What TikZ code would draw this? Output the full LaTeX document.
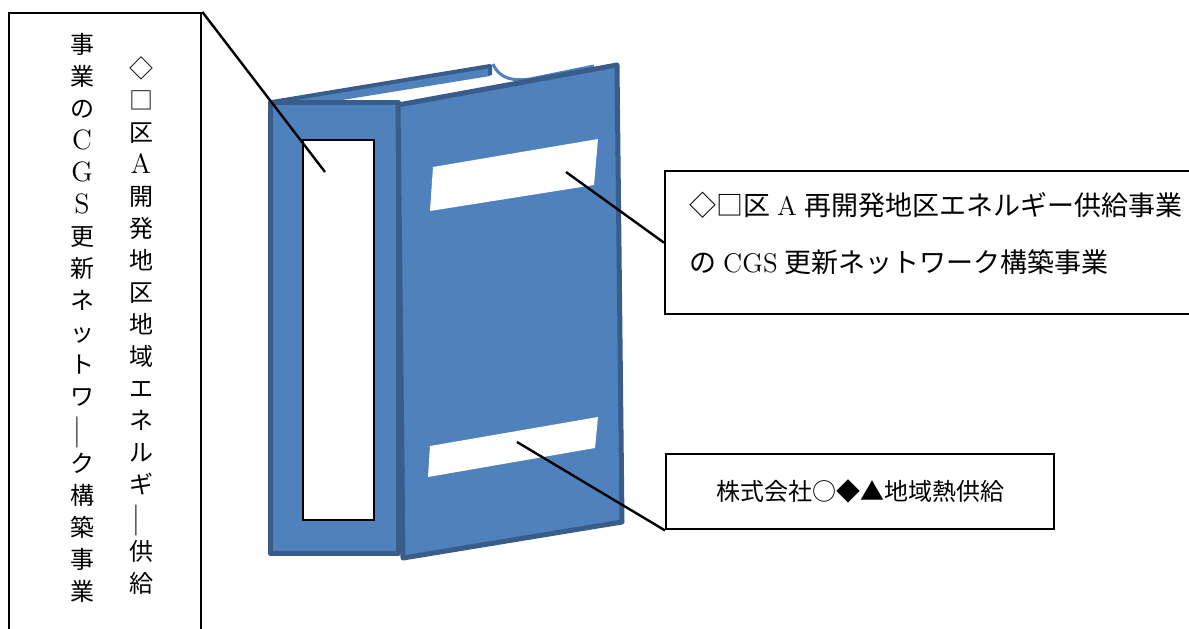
\documentclass[tikz,border=0pt]{standalone}
\usepackage{fontspec}
\newfontfamily\jp{Noto Sans CJK JP}
\usepackage{tikz}
\usetikzlibrary{positioning}
\definecolor{bookblue}{HTML}{4F81BD}
\definecolor{bookedge}{HTML}{385D8A}
\newcommand{\vbar}{\rotatebox[origin=c]{90}{\scalebox{1.5}[1]{―}}}
\newcommand{\vlat}[1]{{\rmfamily\fontsize{14}{16}\selectfont #1}}
\newcommand{\gap}{\hspace{3.5pt}}
\tikzset{
lbl_box/.style = {draw=black, line width=1.2pt, fill=white, inner sep=0pt},% cadre d'etiquette
col_txt/.style = {align=center, inner sep=0pt, font=\jp\fontsize{12}{16}\selectfont},% texte vertical
bk_part/.style = {fill=bookblue, draw=bookedge, line width=2.5pt, line join=round},% couverture
bk_tag/.style = {fill=white, draw=none},% etiquette blanche
lead/.style = {draw=black, line width=1.2pt}% trait de rappel
}
\begin{document}
\begin{tikzpicture}[x=0.5pt, y=-0.5pt]
	\useasboundingbox (0,0) rectangle (1189,628);
	\clip (0,0) rectangle (1189,628);
	% dos du livre et plat arriere
	\fill[bookblue] (272,102) -- (490,66) -- (490,76) -- (330,102) -- cycle;
	\draw[bookedge, line width=2pt, line join=round] (272,102) -- (490,66) -- (490,75);
	\draw[bookblue, line width=1.5pt] (493,64) .. controls (500,80) and (515,81) .. (530,79) -- (594,66);
	\draw[bk_part] (270,102) rectangle (398,553);
	\draw[black, line width=0.6pt, fill=white] (303,140) rectangle (374,520);
	\coordinate (spine_tag) at (325,172);
	% plat avant
	\draw[bk_part] (398,105) -- (617,65) -- (622,522) -- (403,558) -- cycle;
	\fill[bk_tag] (433,167) -- (598,139) -- (594,185) -- (430,211) -- cycle;
	\fill[bk_tag] (430,446) -- (598,417) -- (595,448) -- (428,477) -- cycle;
	\coordinate (cover_tag_a) at (566,172);
	\coordinate (cover_tag_b) at (517,442);
	% etiquettes
	\node[lbl_box, anchor=north west, minimum width=96pt, minimum height=340pt] (spine_box) at (8,12) {};
	\node[col_txt, anchor=north] (col_r) at (141,56) {◇\\□\\区\\\vlat{A}\\開\\発\\地\\区\\地\\域\\エ\\ネ\\ル\\ギ\\\vbar\\供\\給};
	\node[col_txt, anchor=north] (col_l) at (82,33) {事\\業\\の\\\vlat{C}\\\vlat{G}\\\vlat{S}\\更\\新\\ネ\\ッ\\ト\\ワ\\\vbar\\ク\\構\\築\\事\\業};
	\node[lbl_box, anchor=north west, minimum width=324pt, minimum height=71.5pt,
		align=left, text width=300pt, inner xsep=11pt, text depth=39pt,
		font=\fontsize{13.5}{28.5}\selectfont] (title_box) at (664,170)
		{{\jp ◇□区}\gap A\gap{\jp 再開発地区エネルギー供給事業}\\{\jp の}\gap CGS\gap{\jp 更新ネットワーク構築事業}};
	\node[lbl_box, anchor=north west, minimum width=194pt, minimum height=37.5pt,
		font=\jp\fontsize{12}{14}\selectfont] (maker_box) at (665,453) {株式会社○◆▲地域熱供給};
	% traits de rappel
	\draw[lead] (spine_box.north east) -- (spine_tag);
	\draw[lead] (title_box.west) -- (cover_tag_a);
	\draw[lead] (maker_box.south west) -- (cover_tag_b);
\end{tikzpicture}
\end{document}
